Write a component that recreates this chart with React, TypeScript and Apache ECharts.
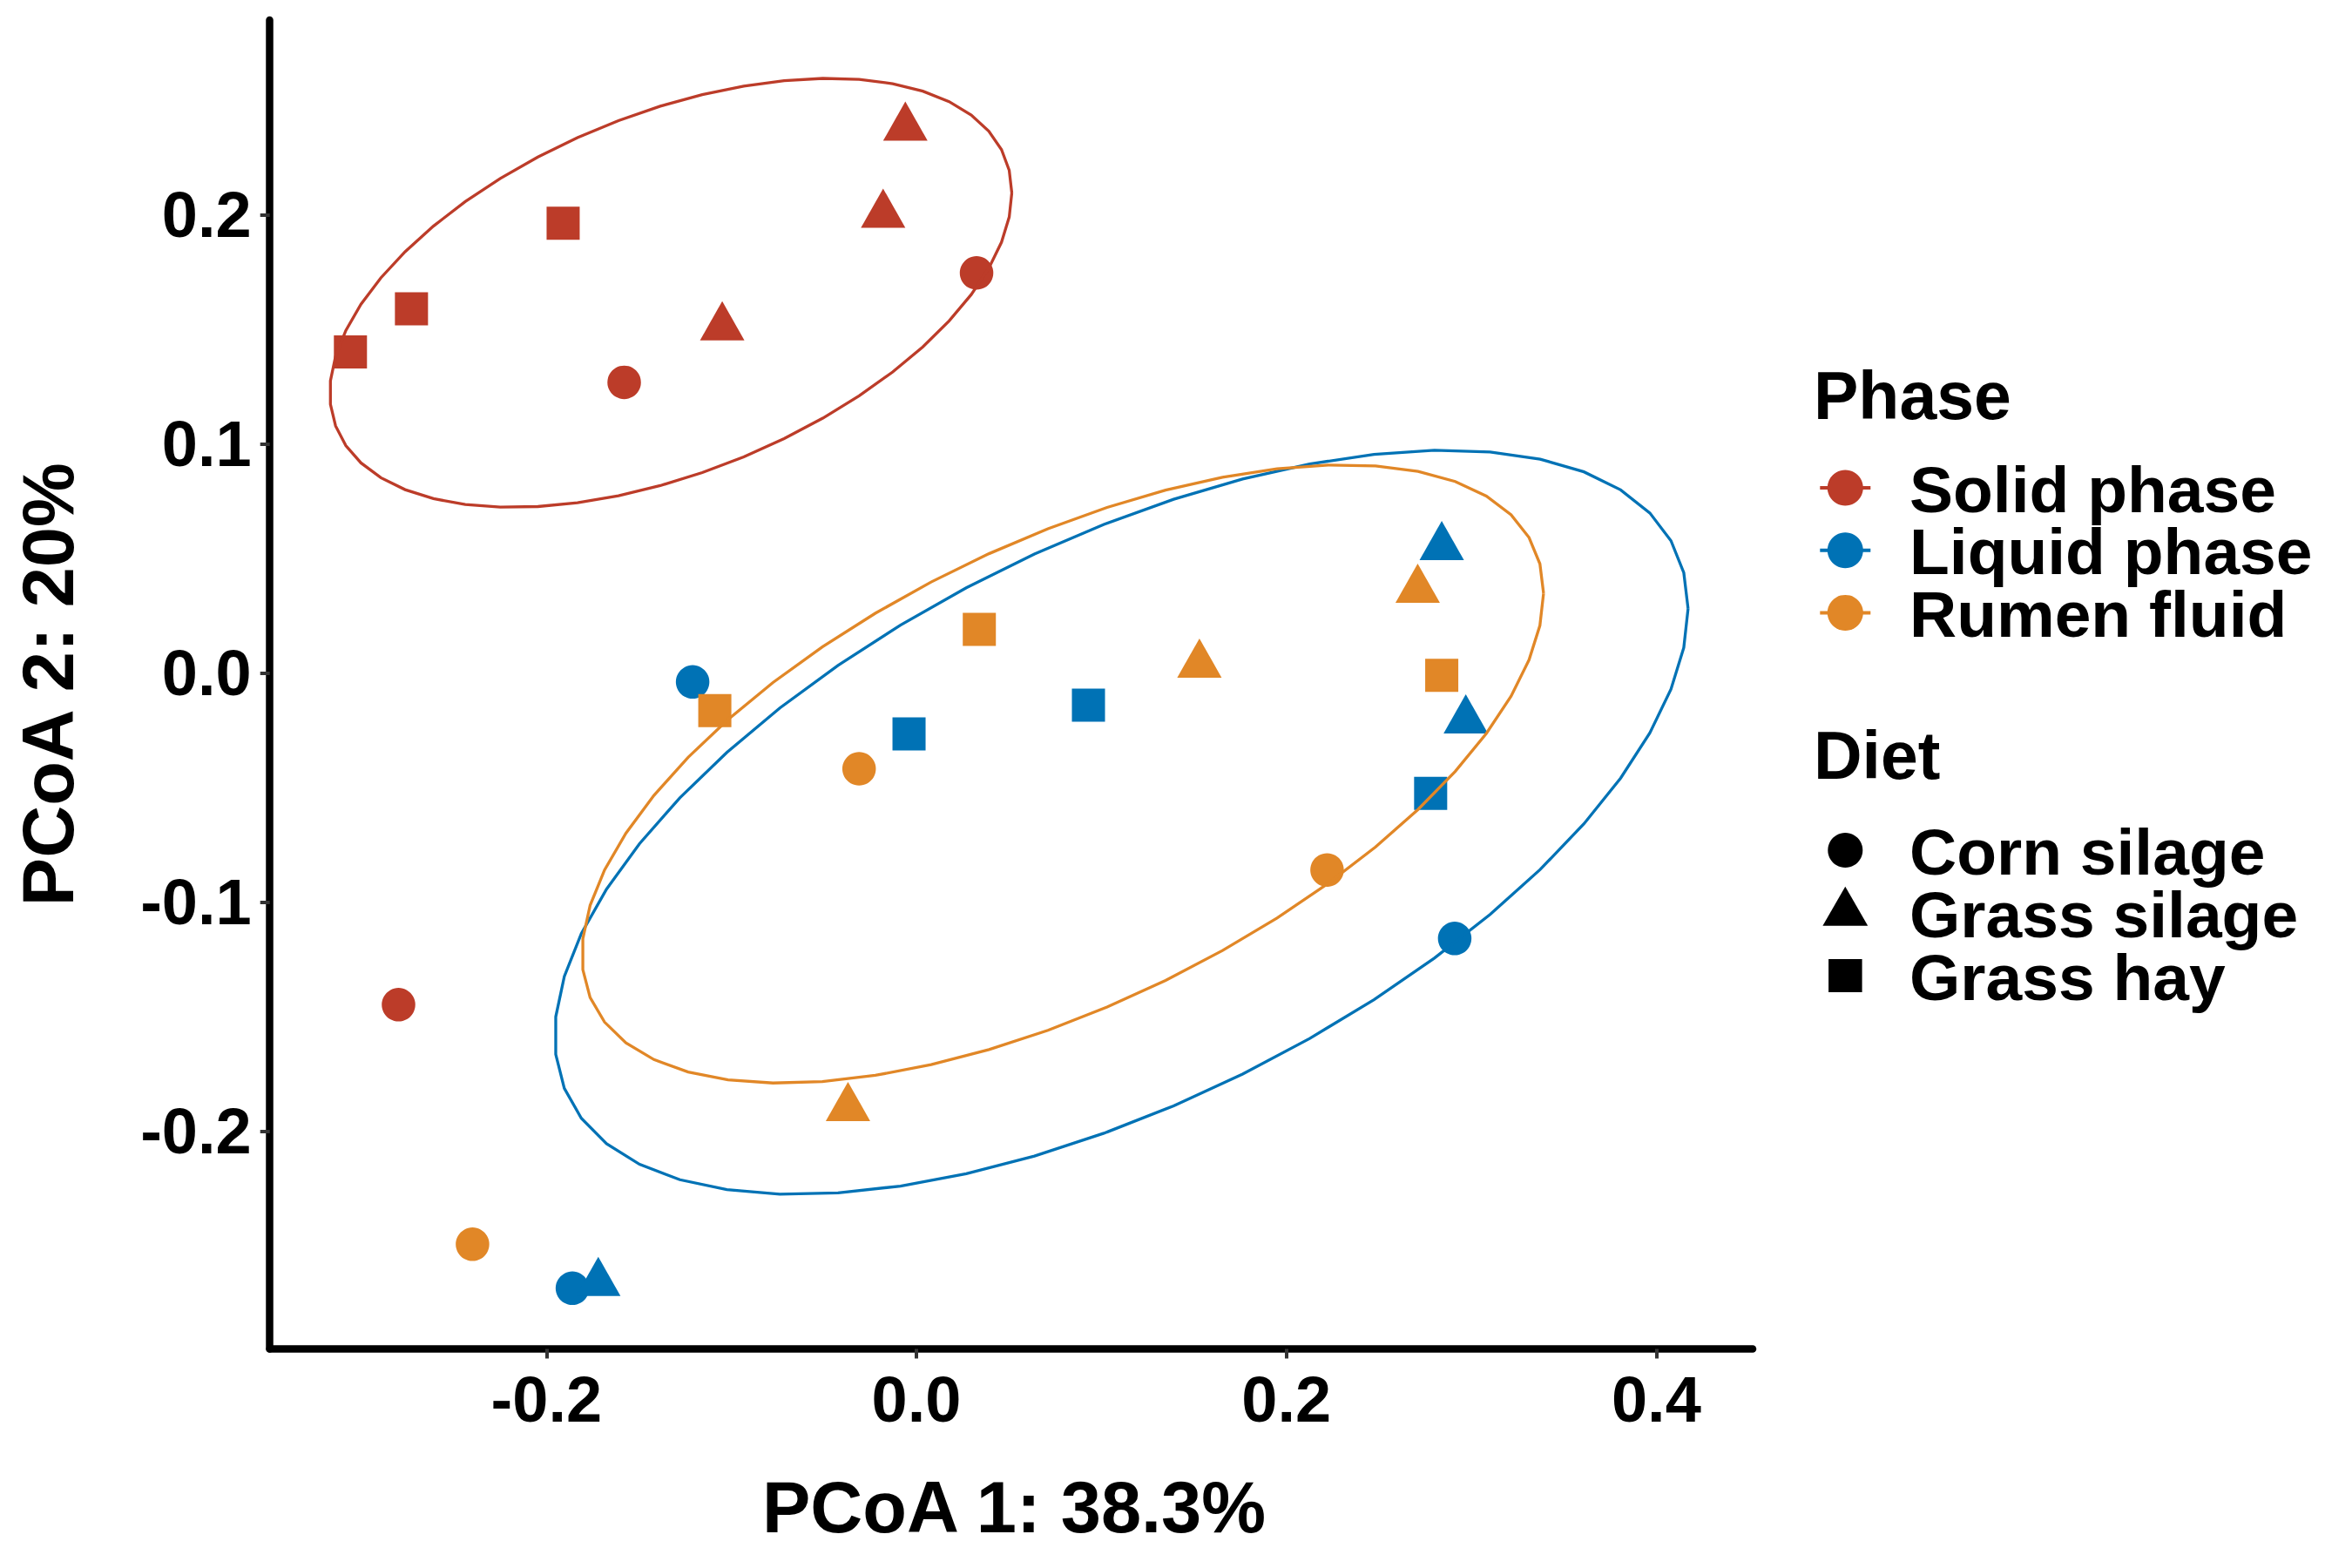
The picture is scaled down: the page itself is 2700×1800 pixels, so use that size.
import React, { useEffect, useRef } from "react";
import * as echarts from "echarts";

// ---------- data ----------
const phases = ["Solid phase", "Liquid phase", "Rumen fluid"];
const phaseColors = ["#BC3C29", "#0072B5", "#E18727"];
const diets = ["Corn silage", "Grass silage", "Grass hay"];
const dietSymbols = ["circle", "triangle", "rect"];

// diet index per point: 0 corn silage, 1 grass silage, 2 grass hay
const solidX = [-0.158, 0.0325, -0.28, -0.105, -0.018, -0.006, -0.306, -0.273, -0.191];
const solidY = [0.1269, 0.1747, -0.1448, 0.1509, 0.2001, 0.2381, 0.1402, 0.159, 0.1964];
const solidDiet = [0, 0, 0, 1, 1, 1, 2, 2, 2];

const liquidX = [-0.121, -0.186, 0.291, -0.172, 0.284, 0.297, -0.004, 0.093, 0.278];
const liquidY = [-0.0039, -0.2686, -0.1159, -0.2663, 0.055, -0.0207, -0.0266, -0.014, -0.0525];
const liquidDiet = [0, 0, 0, 1, 1, 1, 2, 2, 2];

const rumenX = [-0.031, -0.24, 0.222, -0.037, 0.153, 0.271, -0.109, 0.034, 0.284];
const rumenY = [-0.0418, -0.2494, -0.086, -0.1899, 0.0037, 0.0364, -0.0164, 0.0191, -0.001];
const rumenDiet = [0, 0, 0, 1, 1, 1, 2, 2, 2];

// 95% ellipses (center and shape matrix)
const ellipseCx = [-0.1328, 0.1108, 0.0791];
const ellipseCy = [0.166, -0.06516, -0.04405];
const ellipseSxx = [0.03399, 0.09387, 0.06757];
const ellipseSxy = [0.008043, 0.02859, 0.0205];
const ellipseSyy = [0.00877, 0.02639, 0.01822];

const xTicks = [-0.2, 0, 0.2, 0.4];
const yTicks = [-0.2, -0.1, 0, 0.1, 0.2];
const xTitle = "PCoA 1: 38.3%";
const yTitle = "PCoA 2: 20%";

// ---------- style ----------
const FONT = "'Liberation Sans', Arial, Helvetica, sans-serif";

export default function App() {
  const ref = useRef<HTMLDivElement>(null);

  useEffect(() => {
    if (!ref.current) return;
    const chart = echarts.init(ref.current, undefined, { renderer: "svg" });

    const phaseData = [
      { x: solidX, y: solidY, d: solidDiet },
      { x: liquidX, y: liquidY, d: liquidDiet },
      { x: rumenX, y: rumenY, d: rumenDiet },
    ];

    const scatterSeries: any[] = [];
    phaseData.forEach((pd, p) => {
      diets.forEach((dn, d) => {
        const pts: number[][] = [];
        pd.x.forEach((xv, i) => {
          if (pd.d[i] === d) pts.push([xv, pd.y[i]]);
        });
        scatterSeries.push({
          type: "scatter",
          name: phases[p] + " - " + dn,
          data: pts,
          symbol: dietSymbols[d],
          symbolSize: d === 1 ? [51, 45] : d === 0 ? 38.5 : 38,
          symbolOffset: d === 1 ? [0, -7.5] : [0, 0],
          itemStyle: { color: phaseColors[p], opacity: 1 },
          z: 3,
          silent: true,
        });
      });
    });

    const ellipseSeries = {
      type: "custom",
      name: "ellipses",
      data: phases.map((_, i) => [
        ellipseCx[i],
        ellipseCy[i],
        ellipseSxx[i],
        ellipseSxy[i],
        ellipseSyy[i],
        i,
      ]),
      encode: { x: 0, y: 1 },
      z: 4,
      silent: true,
      renderItem: (params: any, api: any) => {
        const cx = api.value(0);
        const cy = api.value(1);
        const sxx = api.value(2);
        const sxy = api.value(3);
        const syy = api.value(4);
        const idx = api.value(5);
        const l11 = Math.sqrt(sxx);
        const l21 = sxy / l11;
        const l22 = Math.sqrt(syy - l21 * l21);
        const seg = 51;
        const points: number[][] = [];
        for (let k = 0; k <= seg; k++) {
          const t = (2 * Math.PI * k) / seg;
          const c = Math.cos(t);
          const s = Math.sin(t);
          points.push(api.coord([cx + l11 * c, cy + l21 * c + l22 * s]));
        }
        return {
          type: "polyline",
          shape: { points },
          style: { stroke: phaseColors[idx], lineWidth: 3.3, fill: "none" },
        };
      },
    };

    const legendGraphics: any[] = [];
    const keyX = 2118.3;
    const labelX = 2192;
    const titleX = 2082;
    const labelFont = `bold 75px ${FONT}`;
    const titleFont = `bold 77px ${FONT}`;
    legendGraphics.push({
      type: "text",
      x: titleX,
      y: 453.5,
      style: { text: "Phase", font: titleFont, lineHeight: 60, fill: "#000", align: "left", verticalAlign: "middle" },
    });
    const phaseYs = [560, 631.7, 703.4];
    phases.forEach((ph, i) => {
      legendGraphics.push({
        type: "line",
        shape: { x1: 2089.3, y1: phaseYs[i], x2: 2147.3, y2: phaseYs[i] },
        style: { stroke: phaseColors[i], lineWidth: 4 },
      });
      legendGraphics.push({
        type: "circle",
        shape: { cx: keyX, cy: phaseYs[i], r: 20.5 },
        style: { fill: phaseColors[i] },
      });
      legendGraphics.push({
        type: "text",
        x: labelX,
        y: phaseYs[i] + 1.5,
        style: { text: ph, font: labelFont, lineHeight: 60, fill: "#000", align: "left", verticalAlign: "middle" },
      });
    });
    legendGraphics.push({
      type: "text",
      x: titleX,
      y: 866.5,
      style: { text: "Diet", font: titleFont, lineHeight: 60, fill: "#000", align: "left", verticalAlign: "middle" },
    });
    const dietYs = [976, 1048, 1120];
    legendGraphics.push({
      type: "circle",
      shape: { cx: keyX, cy: dietYs[0], r: 20 },
      style: { fill: "#000" },
    });
    legendGraphics.push({
      type: "polygon",
      shape: {
        points: [
          [keyX, 1017.8],
          [keyX - 25.9, 1062.7],
          [keyX + 25.9, 1062.7],
        ],
      },
      style: { fill: "#000" },
    });
    legendGraphics.push({
      type: "rect",
      shape: { x: keyX - 19.2, y: dietYs[2] - 19, width: 38.5, height: 38 },
      style: { fill: "#000" },
    });
    diets.forEach((dn, i) => {
      legendGraphics.push({
        type: "text",
        x: labelX,
        y: dietYs[i] + 1.5,
        style: { text: dn, font: labelFont, lineHeight: 60, fill: "#000", align: "left", verticalAlign: "middle" },
      });
    });

    // axis titles
    legendGraphics.push({
      type: "text",
      x: 1164,
      y: 1730.5,
      style: { text: xTitle, font: `bold 83px ${FONT}`, fill: "#000", align: "center", verticalAlign: "middle" },
    });
    legendGraphics.push({
      type: "text",
      x: 55,
      y: 785.7,
      rotation: Math.PI / 2,
      style: { text: yTitle, font: `bold 83px ${FONT}`, fill: "#000", align: "center", verticalAlign: "middle" },
    });

    const axisLabelStyle = {
      fontSize: 74,
      fontWeight: "bold" as const,
      fontFamily: FONT,
      color: "#000",
      margin: 21,
      formatter: (v: number) => v.toFixed(1),
    };

    chart.setOption({
      animation: false,
      backgroundColor: "#fff",
      grid: { left: 309.7, top: 23, right: 688, bottom: 251.5, containLabel: false },
      xAxis: {
        type: "value",
        min: -0.3496,
        max: 0.4521,
        splitLine: { show: false },
        axisLine: { show: true, onZero: false, lineStyle: { color: "#000", width: 8.5 } },
        axisTick: { show: true, customValues: xTicks, length: 11, lineStyle: { color: "#333", width: 4 } },
        axisLabel: { ...axisLabelStyle, customValues: xTicks },
      },
      yAxis: {
        type: "value",
        min: -0.2951,
        max: 0.2851,
        splitLine: { show: false },
        axisLine: { show: true, onZero: false, lineStyle: { color: "#000", width: 8.5 } },
        axisTick: { show: true, customValues: yTicks, length: 11, lineStyle: { color: "#333", width: 4 } },
        axisLabel: { ...axisLabelStyle, customValues: yTicks },
      },
      graphic: legendGraphics,
      series: [...scatterSeries, ellipseSeries],
    });

    return () => chart.dispose();
  }, []);

  return (
    <div
      ref={ref}
      style={{ position: "absolute", left: 0, top: 0, width: 2700, height: 1800, background: "#fff" }}
    />
  );
}
